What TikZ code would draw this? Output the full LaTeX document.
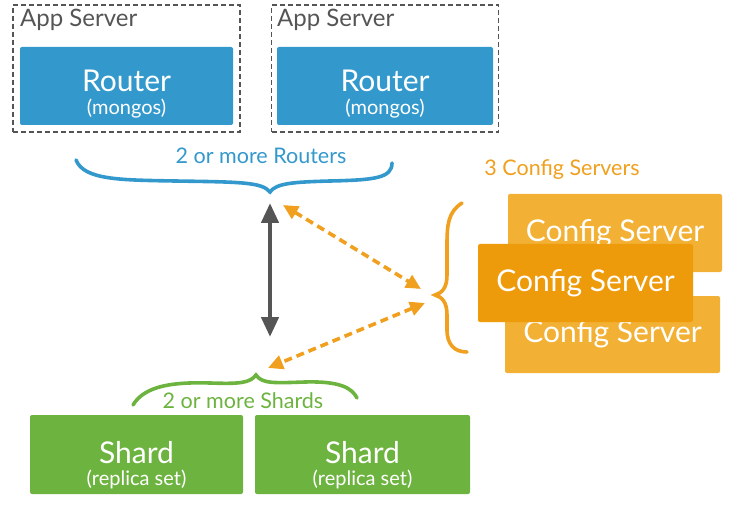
\documentclass[tikz,border=0pt]{standalone}
\usepackage{fontspec}
\setmainfont{Lato}
\usetikzlibrary{arrows.meta}
\definecolor{routerblue}{HTML}{3399CC}
\definecolor{shardgreen}{HTML}{6DB33F}
\definecolor{cfgback}{HTML}{F2B134}
\definecolor{cfgfront}{HTML}{EE9B0B}
\definecolor{cfgorange}{HTML}{F0A01E}
\definecolor{boxgray}{HTML}{555555}
\newcommand\boxbig{\fontsize{30}{32}\selectfont}
\newcommand\boxsmall{\fontsize{20}{21.5}\selectfont}
\newcommand\notefont{\fontsize{21.5}{23}\selectfont}
\begin{document}
\begin{tikzpicture}[x=1pt,y=-1pt,
 appbox/.style={draw=boxgray,dashed,line width=1.4pt,dash pattern=on 5pt off 3pt,minimum width=227pt,minimum height=127pt,inner sep=0pt},
 apptext/.style={anchor=base west,text=boxgray,font=\fontsize{24}{26}\selectfont,inner sep=0pt},
 colbox/.style={rounded corners=2pt,minimum width=214pt,minimum height=78pt,inner sep=0pt},
 boxtext/.style={text=white,align=center,inner sep=0pt},
 bracket/.style={line width=3.6pt,line cap=round},
 grayarrow/.style={draw=boxgray,line width=4.5pt,{Triangle[length=20pt,width=17pt]}-{Triangle[length=20pt,width=17pt]}},
 cfgarrow/.style={draw=cfgorange,line width=3.6pt,dash pattern=on 8pt off 5pt,{Triangle[length=15pt,width=14pt]}-{Triangle[length=15pt,width=14pt]}}]
\useasboundingbox (0,0) rectangle (739,513);
% app servers with routers
\node[appbox] (app1) at (126.5,68.5) {};
\node[appbox] (app2) at (385,68.5) {};
\node[apptext] (app1t) at (20,27) {App Server};
\node[apptext] (app2t) at (277,27) {App Server};
\node[colbox,fill=routerblue,minimum width=213pt] (r1) at (126.5,86) {};
\node[colbox,fill=routerblue,minimum width=216pt] (r2) at (385,86) {};
\node[boxtext,yshift=-8pt] (r1t) at (r1) {\boxbig Router\\[6pt]\boxsmall (mongos)};
\node[boxtext,yshift=-8pt] (r2t) at (r2) {\boxbig Router\\[6pt]\boxsmall (mongos)};
% config servers
\node[colbox,fill=cfgback] (c1) at (615,233) {};
\node[colbox,fill=cfgback,minimum width=215pt,minimum height=77pt] (c3) at (612.5,334.5) {};
\node[boxtext,font=\boxbig] (c1t) at (c1) {Config Server};
\node[boxtext,font=\boxbig] (c3t) at (c3) {Config Server};
\node[colbox,fill=cfgfront,draw=cfgback,densely dotted,thin,minimum width=215pt] (c2) at (585.5,283) {};
\node[boxtext,font=\boxbig] (c2t) at (c2) {Config Server};
% shards
\node[colbox,fill=shardgreen,minimum width=213pt,minimum height=79pt] (s1) at (136.5,454.5) {};
\node[colbox,fill=shardgreen,minimum width=215pt,minimum height=79pt] (s2) at (362.5,454.5) {};
\node[boxtext,yshift=-11pt] (s1t) at (s1) {\boxbig Shard\\[5pt]\boxsmall (replica set)};
\node[boxtext,yshift=-11pt] (s2t) at (s2) {\boxbig Shard\\[5pt]\boxsmall (replica set)};
% notes
\node[text=routerblue,font=\notefont] (rnote) at (261,156) {2 or more Routers};
\node[text=cfgorange,font=\notefont] (cnote) at (562,170) {3 Config Servers};
\node[text=shardgreen,font=\notefont] (snote) at (243,401) {2 or more Shards};
% braces
\draw[bracket,routerblue] (76,160) .. controls (84,180) and (120,180) .. (175,181)
 .. controls (240,182) and (262,182) .. (270,192)
 .. controls (276,183) and (295,182) .. (330,181)
 .. controls (375,180) and (392,178) .. (392,163);
\draw[bracket,shardgreen] (133,405) .. controls (145,385) and (175,382) .. (210,383)
 .. controls (240,384) and (250,383) .. (256,375)
 .. controls (262,384) and (275,383) .. (305,382)
 .. controls (340,381) and (352,388) .. (357,398);
\draw[bracket,cfgorange] (462,203) .. controls (448,212) and (447,225) .. (447,245) -- (447,275)
 .. controls (447,288) and (442,293) .. (435,295)
 .. controls (442,297) and (447,302) .. (447,315) -- (447,330)
 .. controls (447,345) and (455,352) .. (467,352);
% arrows
\coordinate (rtop) at (270,203);
\coordinate (sbot) at (270,337);
\coordinate (rside) at (283,205);
\coordinate (cup) at (421,289);
\coordinate (cdown) at (425,303);
\coordinate (sside) at (268,368);
\draw[grayarrow] (rtop) -- (sbot);
\draw[cfgarrow] (rside) -- (cup);
\draw[cfgarrow] (cdown) -- (sside);
\end{tikzpicture}
\end{document}
